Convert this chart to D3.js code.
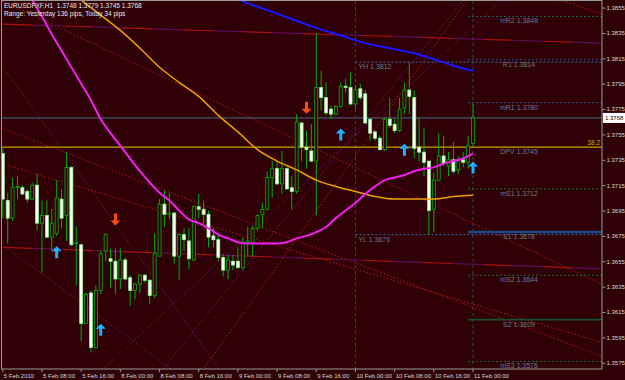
<!DOCTYPE html>
<html>
<head>
<meta charset="utf-8">
<script src="https://cdn.jsdelivr.net/npm/d3@7"></script>
<style>
  body { margin: 0; background: #2f0006; }
  svg { display: block; font-family: "Liberation Sans", Arial, sans-serif; }
</style>
</head>
<body>
<svg id="chart" width="625" height="380"></svg>
<script>
// EURUSD H1, one entry per bar, 5 Feb 2010 00:00 .. 11 Feb 2010 00:00
var opens = [1.3740,1.3703,1.3689,1.3713,1.3713,1.3710,1.3704,1.3715,1.3685,1.3691,
  1.3674,1.3677,1.3704,1.3691,1.3729,1.3669,1.3668,1.3606,1.3630,1.3587,
  1.3632,1.3663,1.3657,1.3655,1.3641,1.3656,1.3642,1.3632,1.3637,1.3644,
  1.3640,1.3628,1.3659,1.3700,1.3692,1.3693,1.3659,1.3676,1.3671,1.3656,
  1.3698,1.3696,1.3692,1.3675,1.3672,1.3658,1.3648,1.3655,1.3655,1.3650,
  1.3670,1.3670,1.3681,1.3692,1.3696,1.3721,1.3728,1.3716,1.3728,1.3713,
  1.3710,1.3764,1.3745,1.3742,1.3734,1.3792,1.3784,1.3775,1.3771,1.3777,
  1.3793,1.3792,1.3779,1.3791,1.3787,1.3767,1.3757,1.3752,1.3743,1.3767,
  1.3763,1.3758,1.3776,1.3790,1.3784,1.3745,1.3741,1.3734,1.3696,1.3719,
  1.3738,1.3730,1.3735,1.3727,1.3735,1.3733,1.3748];
var highs = [1.3744,1.3709,1.3721,1.3722,1.3715,1.3712,1.3717,1.3724,1.3703,1.3703,
  1.3696,1.3719,1.3712,1.3741,1.3730,1.3682,1.3668,1.3630,1.3632,1.3636,
  1.3663,1.3677,1.3665,1.3665,1.3665,1.3658,1.3644,1.3638,1.3645,1.3645,
  1.3641,1.3677,1.3704,1.3711,1.3709,1.3694,1.3677,1.3681,1.3681,1.3699,
  1.3708,1.3703,1.3695,1.3681,1.3677,1.3661,1.3660,1.3660,1.3666,1.3674,
  1.3682,1.3683,1.3692,1.3701,1.3726,1.3734,1.3733,1.3742,1.3729,1.3722,
  1.3771,1.3765,1.3758,1.3763,1.3835,1.3805,1.3796,1.3778,1.3778,1.3796,
  1.3799,1.3804,1.3794,1.3795,1.3790,1.3768,1.3758,1.3754,1.3768,1.3784,
  1.3767,1.3784,1.3796,1.3812,1.3790,1.3768,1.3760,1.3734,1.3725,1.3756,
  1.3754,1.3741,1.3749,1.3738,1.3741,1.3754,1.3779];
var lows = [1.3689,1.3669,1.3687,1.3704,1.3707,1.3701,1.3703,1.3679,1.3646,1.3673,
  1.3663,1.3675,1.3681,1.3671,1.3667,1.3636,1.3592,1.3606,1.3583,1.3586,
  1.3629,1.3655,1.3634,1.3629,1.3633,1.3640,1.3620,1.3625,1.3630,1.3638,
  1.3621,1.3626,1.3659,1.3682,1.3688,1.3653,1.3640,1.3663,1.3649,1.3655,
  1.3689,1.3685,1.3666,1.3666,1.3655,1.3643,1.3641,1.3648,1.3649,1.3648,
  1.3659,1.3659,1.3679,1.3681,1.3695,1.3705,1.3715,1.3708,1.3712,1.3696,
  1.3708,1.3734,1.3728,1.3733,1.3691,1.3774,1.3770,1.3767,1.3770,1.3776,
  1.3788,1.3778,1.3775,1.3782,1.3763,1.3750,1.3750,1.3742,1.3742,1.3760,
  1.3756,1.3757,1.3771,1.3771,1.3736,1.3734,1.3722,1.3676,1.3678,1.3718,
  1.3730,1.3722,1.3724,1.3724,1.3729,1.3728,1.3745];
var closes = [1.3704,1.3689,1.3713,1.3714,1.3708,1.3704,1.3715,1.3685,1.3691,1.3674,
  1.3685,1.3705,1.3689,1.3729,1.3668,1.3670,1.3606,1.3629,1.3587,1.3632,
  1.3661,1.3676,1.3655,1.3641,1.3656,1.3641,1.3632,1.3637,1.3644,1.3640,
  1.3628,1.3661,1.3700,1.3692,1.3693,1.3659,1.3676,1.3672,1.3657,1.3698,
  1.3696,1.3692,1.3674,1.3672,1.3658,1.3648,1.3656,1.3652,1.3650,1.3670,
  1.3671,1.3681,1.3691,1.3696,1.3721,1.3728,1.3716,1.3728,1.3712,1.3710,
  1.3765,1.3745,1.3743,1.3734,1.3792,1.3784,1.3772,1.3771,1.3777,1.3793,
  1.3792,1.3779,1.3790,1.3784,1.3764,1.3756,1.3752,1.3743,1.3767,1.3762,
  1.3758,1.3775,1.3790,1.3785,1.3744,1.3741,1.3733,1.3695,1.3719,1.3738,
  1.3732,1.3735,1.3726,1.3734,1.3733,1.3746,1.3768];

// time axis: a label every 8 bars
var timeTickBars = [0,8,16,24,32,40,48,56,64,72,80,88,96];
var timeTickLabels = ["5 Feb 2010","5 Feb 08:00","5 Feb 16:00","8 Feb 00:00","8 Feb 08:00",
  "8 Feb 16:00","9 Feb 00:00","9 Feb 08:00","9 Feb 16:00","10 Feb 00:00","10 Feb 08:00",
  "10 Feb 16:00","11 Feb 00:00"];
var priceTicks = [1.3855,1.3835,1.3815,1.3795,1.3775,1.3755,1.3735,1.3715,1.3695,
  1.3675,1.3655,1.3635,1.3615,1.3595,1.3575];

// moving averages at these bars
var blueMaBars = [45,49,54,59,64,69,74,79,84,89,94,96];
var blueMaVals = [1.3867,1.3860,1.3853,1.3846,1.3839,1.3833,1.3827,1.3823,1.3819,1.3813,1.3807,1.3805];
var orangeMaBars = [12,16,20,24,28,32,36,40,44,48,52,56,60,64,68,72,76,80,84,88,92,96];
var orangeMaVals = [1.3874,1.3861,1.3849,1.3837,1.3823,1.3808,1.3796,1.3785,1.3770,1.3757,1.3743,
  1.3734,1.3727,1.3719,1.3714,1.3710,1.3706,1.3704,1.3704,1.3704,1.3706,1.3707];
var magentaMaBars = [4,6,8,10,12,14,16,18,20,22,24,26,28,30,32,34,36,38,40,42,44,46,48,50,
  52,54,56,58,60,62,64,66,68,70,72,74,76,78,80,82,84,86,88,90,92,94,96];
var magentaMaVals = [1.3876,1.3861,1.3848,1.3834,1.3821,1.3808,1.3795,1.3782,1.3767,1.3756,
  1.3746,1.3736,1.3726,1.3717,1.3709,1.3703,1.3695,1.3688,1.3685,1.3681,1.3676,1.3673,1.3670,
  1.3669,1.3669,1.3669,1.3669,1.3670,1.3673,1.3675,1.3678,1.3682,1.3689,1.3695,1.3701,1.3708,
  1.3714,1.3719,1.3721,1.3723,1.3726,1.3728,1.3729,1.3732,1.3734,1.3736,1.3740];

// signal arrows
var upArrowBars = [11,20,69,82,96];
var upArrowPrices = [1.3662,1.3601,1.3755,1.3743,1.3729];
var downArrowBars = [23,62];
var downArrowPrices = [1.3688,1.3776];

// daily pivots and yesterday's range
var pivotNames = ["mR2","R1","mR1","DPV","mS1","S1","mS2","S2","mS3"];
var pivotValues = [1.3848,1.3814,1.3780,1.3745,1.3712,1.3678,1.3644,1.3609,1.3576];
var yesterdayNames = ["YH","YL"];
var yesterdayValues = [1.3812,1.3676];
var bidPrice = 1.3768;
var fibLabel = "38.2";

// hand drawn lines: bar/price at both ends
var trendLines = [
  {b0:-0.4, p0:1.3861, b1:122.3, p1:1.3637, kind:"red"},
  {b0:-0.4, p0:1.3760, b1:122.3, p1:1.3580, kind:"red"},
  {b0:-0.4, p0:1.3732, b1:122.3, p1:1.3591, kind:"red"},
  {b0:-0.4, p0:1.3669, b1:34.7, p1:1.3569, kind:"purple"},
  {b0:-0.4, p0:1.3811, b1:44.4, p1:1.3569, kind:"purple"},
  {b0:20.2, p0:1.3569, b1:101.9, p1:1.3861, kind:"purple"},
  {b0:32.4, p0:1.3569, b1:94.0, p1:1.3861, kind:"purple"},
  {b0:40.8, p0:1.3569, b1:94.8, p1:1.3861, kind:"red"},
  {b0:113.7, p0:1.3861, b1:122.3, p1:1.3850, kind:"red"}
];
var flatLines = [
  {b0:0, p0:1.3842, b1:122.3, p1:1.3827},
  {b0:0, p0:1.3666, b1:122.3, p1:1.3649}
];

var headerLine1 = "EURUSDFXF,H1  1.3748 1.3779 1.3745 1.3768";
var headerLine2 = "Range: Yesterday 136 pips, Today 34 pips";

var bg = "#2f0006",
    plotL = 2, plotR = 602, plotT = 1, plotB = 369;

var x = d3.scaleLinear().domain([0, 96]).range([2.8, 473]);
var y = d3.scaleLinear().domain([1.3575, 1.3855]).range([362.7, 7.6]);

var svg = d3.select("#chart");
svg.append("rect").attr("width", 625).attr("height", 380).attr("fill", bg);

svg.append("defs").append("clipPath").attr("id", "plot")
  .append("rect")
  .attr("x", 0).attr("y", plotT)
  .attr("width", plotR).attr("height", plotB - plotT);

var g = svg.append("g").attr("clip-path", "url(#plot)");

// day separators
g.selectAll("line.sep").data([72, 96]).enter().append("line")
  .attr("x1", function(d) { return x(d); }).attr("x2", function(d) { return x(d); })
  .attr("y1", plotT).attr("y2", plotB)
  .attr("stroke", "#1f5050").attr("stroke-dasharray", "3,3");

// near flat lines, alternating red / purple
flatLines.forEach(function(l) {
  [["#a81010", 0], ["#5c0c5c", 30]].forEach(function(s) {
    g.append("line")
      .attr("x1", x(l.b0)).attr("y1", y(l.p0))
      .attr("x2", x(l.b1)).attr("y2", y(l.p1))
      .attr("stroke", s[0]).attr("stroke-width", 1.2)
      .attr("stroke-dasharray", "30,30").attr("stroke-dashoffset", s[1]);
  });
});

// trend lines
g.selectAll("line.trend").data(trendLines).enter().append("line")
  .attr("x1", function(d) { return x(d.b0); }).attr("y1", function(d) { return y(d.p0); })
  .attr("x2", function(d) { return x(d.b1); }).attr("y2", function(d) { return y(d.p1); })
  .attr("stroke", function(d) { return d.kind == "red" ? "#b01818" : "#78106e"; })
  .attr("stroke-width", 1)
  .attr("stroke-dasharray", "1.5,2");

// bid line and daily pivot
g.append("line")
  .attr("x1", plotL).attr("x2", plotR)
  .attr("y1", y(bidPrice)).attr("y2", y(bidPrice))
  .attr("stroke", "#47688a");
var dpv = pivotValues[pivotNames.indexOf("DPV")];
g.append("line")
  .attr("x1", plotL).attr("x2", plotR)
  .attr("y1", y(dpv)).attr("y2", y(dpv))
  .attr("stroke", "#c8a200").attr("stroke-width", 1.2);

// yesterday high / low from the day separator
yesterdayValues.forEach(function(v) {
  g.append("line")
    .attr("x1", x(72)).attr("x2", plotR)
    .attr("y1", y(v)).attr("y2", y(v))
    .attr("stroke", "#3a6ab0").attr("stroke-dasharray", "2,2");
});

var pivotStyle = {
  mR2: ["#1e5a5a", 1, "2,2"], R1: ["#1f4f8f", 1, "2,2"], mR1: ["#2a5a9a", 1, "2,2"],
  mS1: ["#1e6a3a", 1, "2,2"], S1: ["#1b4a86", 2.5, null], mS2: ["#1e6a3a", 1, "2,2"],
  S2: ["#17502a", 1.6, null], mS3: ["#1e6a3a", 1, "2,2"]
};
pivotNames.forEach(function(n, i) {
  var s = pivotStyle[n];
  if (!s) return;
  g.append("line")
    .attr("x1", x(95)).attr("x2", plotR)
    .attr("y1", y(pivotValues[i])).attr("y2", y(pivotValues[i]))
    .attr("stroke", s[0]).attr("stroke-width", s[1])
    .attr("stroke-dasharray", s[2]);
});

// candles
var bars = d3.range(opens.length);
g.selectAll("line.wick").data(bars).enter().append("line")
  .attr("x1", function(i) { return x(i); }).attr("x2", function(i) { return x(i); })
  .attr("y1", function(i) { return y(highs[i]); })
  .attr("y2", function(i) { return y(lows[i]); })
  .attr("stroke", "#00b000").attr("stroke-width", 1);

g.selectAll("rect.body").data(bars).enter().append("rect")
  .attr("x", function(i) { return x(i) - 1.5; })
  .attr("width", 3)
  .attr("y", function(i) { return y(Math.max(opens[i], closes[i])); })
  .attr("height", function(i) { return Math.max(1, Math.abs(y(opens[i]) - y(closes[i]))); })
  .attr("fill", function(i) { return closes[i] < opens[i] ? "#ffffff" : bg; })
  .attr("stroke", function(i) { return closes[i] < opens[i] ? "#8cf08c" : "#00b400"; })
  .attr("stroke-width", 0.8);

// moving averages
function maLine(bs, vs, color, w) {
  g.append("path")
    .datum(d3.zip(bs, vs))
    .attr("d", d3.line()
      .x(function(d) { return x(d[0]); })
      .y(function(d) { return y(d[1]); })
      .curve(d3.curveMonotoneX))
    .attr("fill", "none").attr("stroke", color).attr("stroke-width", w);
}
maLine(orangeMaBars, orangeMaVals, "#f0a000", 1.5);
maLine(magentaMaBars, magentaMaVals, "#f020f0", 2);
maLine(blueMaBars, blueMaVals, "#1818ff", 2);

// arrows
function arrow(cx, cy, dir) {
  var p = [[0,-6],[5,-1],[1.5,-1],[1.5,6],[-1.5,6],[-1.5,-1],[-5,-1]];
  return "M" + p.map(function(q) { return (cx + q[0]) + "," + (cy + dir * q[1]); }).join("L") + "Z";
}
upArrowBars.forEach(function(b, i) {
  g.append("path").attr("d", arrow(x(b), y(upArrowPrices[i]), 1)).attr("fill", "#20b0ff");
});
downArrowBars.forEach(function(b, i) {
  g.append("path").attr("d", arrow(x(b), y(downArrowPrices[i]), -1)).attr("fill", "#ff4a1a");
});

// pivot labels
var labelColor = "#6b7b8b";
pivotNames.forEach(function(n, i) {
  g.append("text")
    .attr("x", 519).attr("y", y(pivotValues[i]) + 7)
    .attr("text-anchor", "middle")
    .attr("font-size", 7).attr("fill", labelColor)
    .text(n + " " + pivotValues[i].toFixed(4));
});
yesterdayNames.forEach(function(n, i) {
  g.append("text")
    .attr("x", x(72) + 3).attr("y", y(yesterdayValues[i]) + 7)
    .attr("font-size", 7).attr("fill", labelColor)
    .text(n + " " + yesterdayValues[i].toFixed(4));
});
g.append("text")
  .attr("x", 600).attr("y", y(dpv) - 2)
  .attr("text-anchor", "end")
  .attr("font-size", 6.5).attr("fill", "#b8b800")
  .text(fibLabel);

// header
svg.append("text").attr("x", 4).attr("y", 7.5)
  .attr("font-size", 6.5).attr("fill", "#e8e8e8")
  .attr("xml:space", "preserve")
  .text(headerLine1);
svg.append("text").attr("x", 4).attr("y", 15.5)
  .attr("font-size", 6.5).attr("fill", "#e8e8e8")
  .text(headerLine2);

// frame
svg.append("rect")
  .attr("x", plotL - 0.5).attr("y", plotT - 0.5)
  .attr("width", plotR - plotL + 0.5).attr("height", plotB - plotT + 0.5)
  .attr("fill", "none").attr("stroke", "#9a9a9a");

// price axis
var yAxis = svg.append("g")
  .attr("transform", "translate(" + (plotR + 0.5) + ",0)")
  .call(d3.axisRight(y).tickValues(priceTicks).tickFormat(d3.format(".4f")).tickSize(3));
yAxis.select(".domain").remove();
yAxis.selectAll("line").attr("stroke", "#9a9a9a");
yAxis.selectAll("text").attr("font-size", 6).attr("fill", "#d8d8d8")
  .attr("font-family", "Liberation Sans, Arial, sans-serif").attr("x", 4);

// bid price box
svg.append("rect")
  .attr("x", plotR + 1).attr("y", y(bidPrice) - 5)
  .attr("width", 22).attr("height", 10).attr("fill", "#ffffff");
svg.append("text")
  .attr("x", plotR + 3).attr("y", y(bidPrice) + 2.2)
  .attr("font-size", 6).attr("fill", "#000000")
  .text(bidPrice.toFixed(4));

// time axis
var xAxis = svg.append("g");
timeTickBars.forEach(function(b, i) {
  xAxis.append("line")
    .attr("x1", x(b)).attr("x2", x(b))
    .attr("y1", plotB).attr("y2", plotB + 3)
    .attr("stroke", "#9a9a9a");
  xAxis.append("text")
    .attr("x", x(b) + 1).attr("y", plotB + 9)
    .attr("font-size", 6).attr("fill", "#d8d8d8")
    .text(timeTickLabels[i]);
});
</script>
</body>
</html>
